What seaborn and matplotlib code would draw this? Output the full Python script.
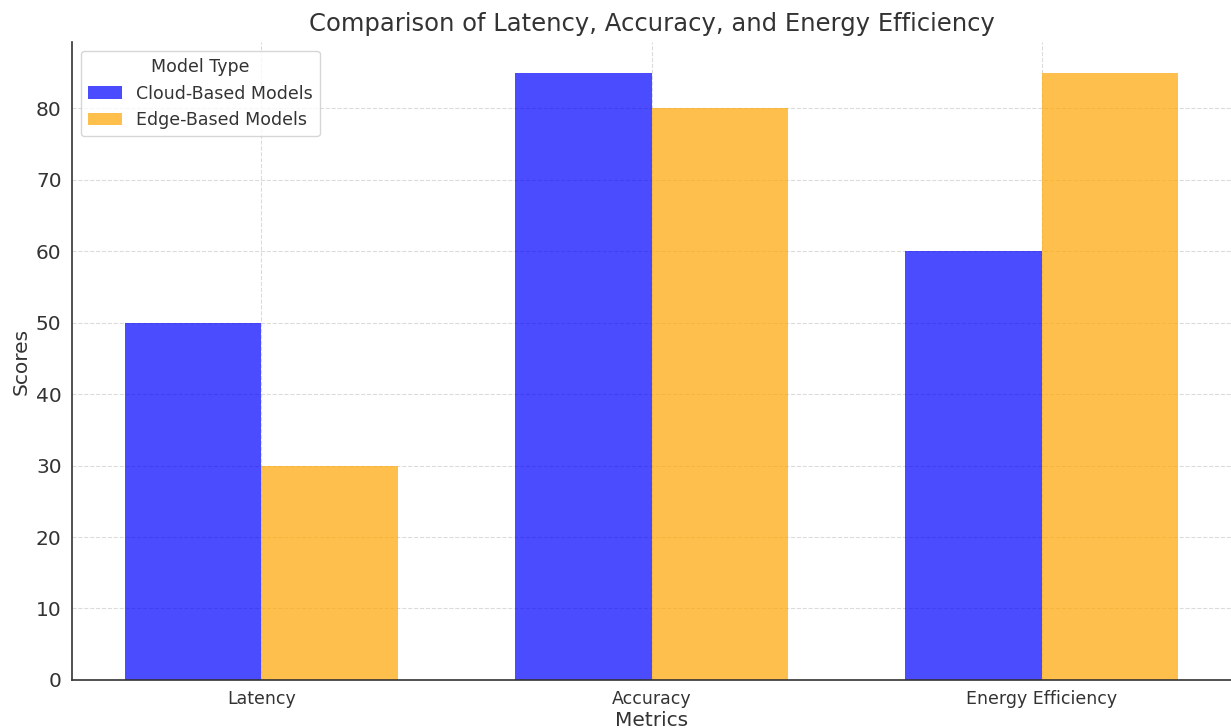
import matplotlib
matplotlib.use("Agg")
import matplotlib.pyplot as plt
import seaborn as sns
import pandas as pd

metrics = ["Latency", "Accuracy", "Energy Efficiency"]
cloud_scores = [50, 85, 60]
edge_scores = [30, 80, 85]
model_types = ["Cloud-Based Models", "Edge-Based Models"]

df = pd.DataFrame({
    "Metrics": metrics * 2,
    "Scores": cloud_scores + edge_scores,
    "Model Type": [model_types[0]] * len(metrics) + [model_types[1]] * len(metrics),
})

sns.set_style("white")
plt.rcParams["font.family"] = ["DejaVu Sans"]

fig = plt.figure(figsize=(12.31, 7.28), dpi=100)
ax = fig.add_axes([0.0585, 0.066, 0.9415, 0.876])

sns.barplot(
    data=df, x="Metrics", y="Scores", hue="Model Type",
    palette=["blue", "orange"], alpha=0.7, saturation=1,
    width=0.7, linewidth=0, ax=ax,
)

ax.set_xlim(-0.485, 2.485)
ax.set_ylim(0, 89.25)
ax.set_title("Comparison of Latency, Accuracy, and Energy Efficiency",
             fontsize=17.5, color="#333333", pad=8)
ax.set_xlabel("Metrics", fontsize=14.5, color="#333333", labelpad=2)
ax.set_ylabel("Scores", fontsize=14.5, color="#333333")
ax.tick_params(axis="x", labelsize=12.5, colors="#333333", length=4, width=0.8)
ax.tick_params(axis="y", labelsize=14.5, colors="#333333", length=4, width=0.8)
ax.grid(True, linestyle="--", alpha=0.7, color="#cccccc")
ax.set_axisbelow(True)
for side in ["top", "right"]:
    ax.spines[side].set_visible(False)
for side in ["left", "bottom"]:
    ax.spines[side].set_color("#333333")
    ax.spines[side].set_linewidth(1.2)

leg = ax.legend(title="Model Type", loc="upper left", fontsize=12.5,
                title_fontsize=12.5, frameon=True)
for t in leg.get_texts():
    t.set_color("#333333")
leg.get_title().set_color("#333333")

fig.savefig("out.png", dpi=100)
